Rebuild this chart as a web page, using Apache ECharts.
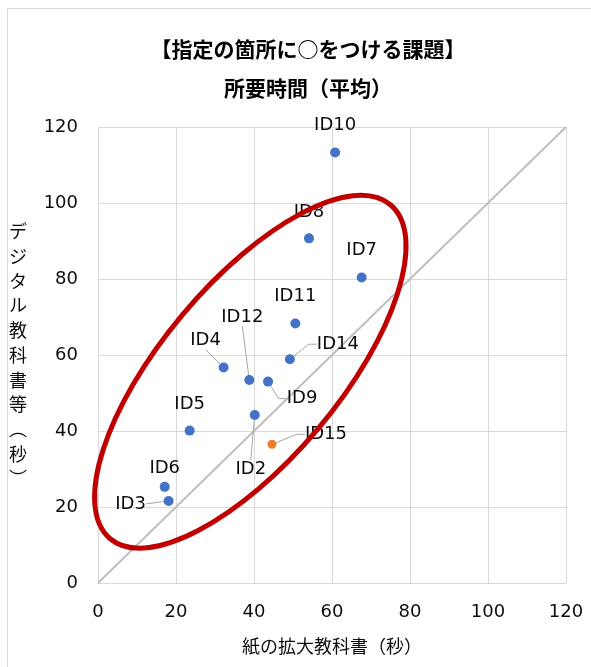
<!DOCTYPE html>
<html>
<head>
<meta charset="utf-8">
<script src="https://cdn.jsdelivr.net/npm/echarts@6/dist/echarts.min.js"></script>
<style>
html, body { margin: 0; padding: 0; background: #fff; }
#main { width: 591px; height: 667px; }
</style>
</head>
<body>
<div id="main"></div>
<script>
// 青の点（各ID）
var ids        = ['ID2', 'ID3', 'ID4', 'ID5', 'ID6', 'ID7', 'ID8', 'ID9', 'ID10', 'ID11', 'ID12', 'ID14'];
var paperSec   = [40.2, 18.1, 32.2, 23.5, 17.1, 67.6, 54.1, 43.6, 60.8, 50.6, 38.8, 49.2];
var digitalSec = [44.2, 21.6, 56.7, 40.1, 25.3, 80.4, 90.7, 53.0, 113.3, 68.3, 53.4, 58.9];

// オレンジの点
var idsOrange     = ['ID15'];
var paperOrange   = [44.6];
var digitalOrange = [36.5];

// y = x の補助線
var diagX = [0, 120];
var diagY = [0, 120];

var xTitle = '紙の拡大教科書（秒）';
var yTitle = 'デジタル教科書等︵秒︶';

// ラベルの位置（点からのずれ, px）と引き出し線
var labelOffset = {
    'ID2': [-4, 54], 'ID3': [-38, 3], 'ID4': [-18, -27], 'ID5': [0, -26],
    'ID6': [0, -19], 'ID7': [0, -27], 'ID8': [0, -26], 'ID9': [34, 17],
    'ID10': [0, -27], 'ID11': [0, -27], 'ID12': [-7, -63], 'ID14': [48, -15],
    'ID15': [54, -10]
};
var straightLeader = ['ID2', 'ID3', 'ID4', 'ID12'];   // まっすぐな線
var bentLeader = ['ID9', 'ID14', 'ID15'];             // 横に折れる線

function buildData(names, xs, ys) {
    var arr = [];
    for (var i = 0; i < names.length; i++) {
        var n = names[i];
        var ll = { show: false };
        if (straightLeader.indexOf(n) >= 0) ll = { show: true, length2: 0 };
        if (bentLeader.indexOf(n) >= 0) ll = { show: true, length2: 8 };
        arr.push({ name: n, value: [xs[i], ys[i]], labelLine: ll });
    }
    return arr;
}

var diagData = [];
for (var k = 0; k < diagX.length; k++) {
    diagData.push([diagX[k], diagY[k]]);
}

var latin = 'DejaVu Sans, "Noto Sans CJK JP", sans-serif';
var cjk = '"Noto Sans CJK JP", sans-serif';
var txtColor = '#0d0d0d';

var labelCfg = {
    show: true,
    position: 'inside',
    formatter: '{b}',
    color: txtColor,
    fontFamily: latin,
    fontSize: 18
};
var leaderCfg = {
    show: true,
    length2: 8,
    lineStyle: { color: '#a6a6a6', width: 1 }
};
function moveLabel(p) {
    var o = labelOffset[p.text] || [0, -26];
    return { dx: o[0], dy: o[1] };
}

var myChart = echarts.init(document.getElementById('main'));
var option = {
    backgroundColor: '#fff',
    animation: false,
    title: {
        text: '【指定の箇所に○をつける課題】\n所要時間（平均）',
        left: 303,
        top: 25,
        textAlign: 'center',
        textStyle: {
            fontFamily: cjk,
            fontSize: 21,
            fontWeight: 'bold',
            color: '#000',
            lineHeight: 39
        }
    },
    grid: { left: 98, right: 25, top: 127, bottom: 84 },
    xAxis: {
        type: 'value',
        min: 0, max: 120, interval: 20,
        name: xTitle,
        nameLocation: 'middle',
        nameGap: 54,
        nameTextStyle: { fontFamily: cjk, fontSize: 18, color: txtColor },
        axisLine: { lineStyle: { color: '#d9d9d9' } },
        axisTick: { show: false },
        axisLabel: { margin: 20, fontFamily: latin, fontSize: 18, color: txtColor },
        splitLine: { lineStyle: { color: '#d9d9d9' } }
    },
    yAxis: {
        type: 'value',
        min: 0, max: 120, interval: 20,
        name: yTitle.split('').join('\n'),
        nameLocation: 'middle',
        nameRotate: 0,
        nameGap: 71,
        nameTextStyle: { fontFamily: cjk, fontSize: 18, color: txtColor, lineHeight: 24.7 },
        axisLine: { show: true, lineStyle: { color: '#d9d9d9' } },
        axisTick: { show: false },
        axisLabel: { margin: 20, fontFamily: latin, fontSize: 18, color: txtColor },
        splitLine: { lineStyle: { color: '#d9d9d9' } }
    },
    series: [
        {
            type: 'line',
            data: diagData,
            showSymbol: false,
            silent: true,
            lineStyle: { color: '#bfbfbf', width: 2 },
            z: 1
        },
        {
            type: 'scatter',
            data: buildData(ids, paperSec, digitalSec),
            symbolSize: 10,
            itemStyle: { color: '#4472c4', opacity: 1 },
            label: labelCfg,
            labelLine: leaderCfg,
            labelLayout: moveLabel,
            z: 3
        },
        {
            type: 'scatter',
            data: buildData(idsOrange, paperOrange, digitalOrange),
            symbolSize: 9,
            itemStyle: { color: '#ed7d31', opacity: 1 },
            label: labelCfg,
            labelLine: leaderCfg,
            labelLayout: moveLabel,
            z: 3
        }
    ]
};
myChart.setOption(option);

// 赤い楕円（注記）: 中心はデータ座標から求める
var ellipseCenter = myChart.convertToPixel({ gridIndex: 0 }, [39.05, 55.6]);
myChart.setOption({
    graphic: [
        {
            type: 'rect',
            shape: { x: 7.5, y: 8.5, width: 700, height: 800 },
            style: { fill: 'none', stroke: '#d9d9d9', lineWidth: 1 },
            silent: true,
            z: 0
        },
        {
            type: 'ellipse',
            x: ellipseCenter[0],
            y: ellipseCenter[1],
            rotation: 50 * Math.PI / 180,
            shape: { cx: 0, cy: 0, rx: 218, ry: 88.6 },
            style: { fill: 'none', stroke: '#c00000', lineWidth: 5 },
            silent: true,
            z: 100
        }
    ]
});
</script>
</body>
</html>
